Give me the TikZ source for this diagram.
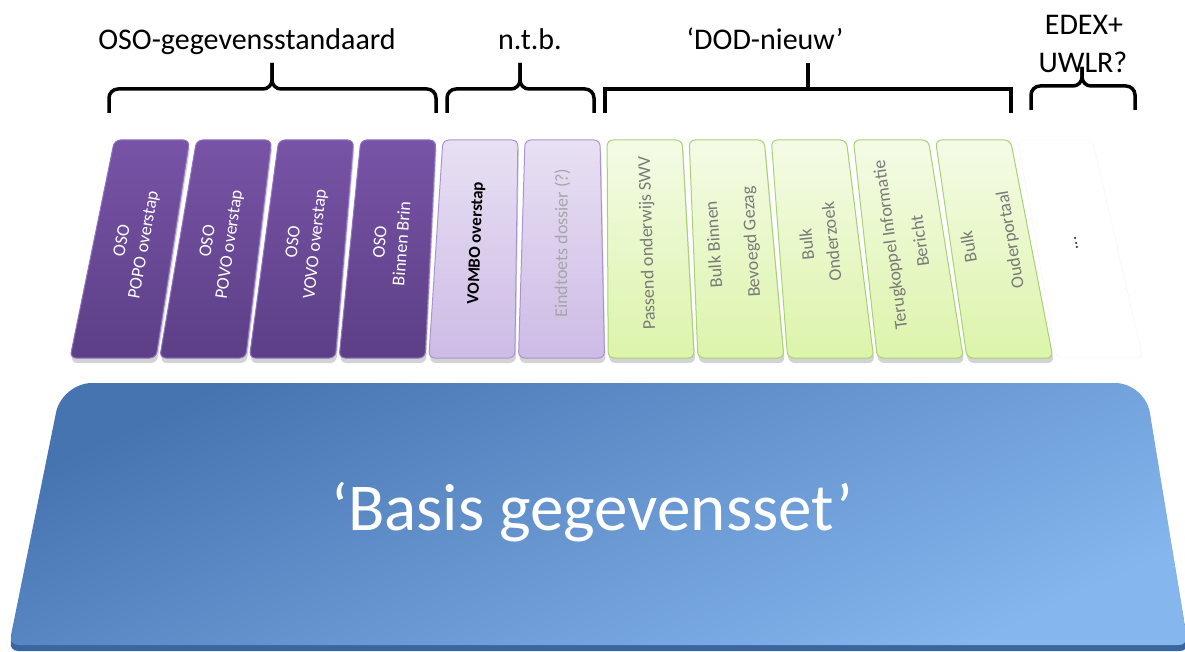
\documentclass[tikz,border=0pt]{standalone}
\usepackage{fontspec}
\setmainfont{Carlito}
\usetikzlibrary{shadows}

\tikzset{
  col/.style={rounded corners=6pt, line width=1pt,
    drop shadow={opacity=0.35, shadow xshift=1pt, shadow yshift=-5pt}},
  osocol/.style={col, draw=osoedge, top color=osotop, bottom color=osobot},
  vombocol/.style={col, draw=ntbedge, top color=ntbtop, bottom color=ntbbot},
  ntbcol/.style={vombocol},
  dodcol/.style={col, draw=dodedge, top color=dodtop, bottom color=dodbot},
  morecol/.style={rounded corners=6pt, draw=black!5, fill=white},
  coltxt/.style={align=center, font=\fontsize{18}{22}\selectfont},
  osotxt/.style={coltxt, text=white},
  vombotxt/.style={coltxt, text=black, font=\fontsize{17}{22}\selectfont\bfseries},
  ntbtxt/.style={coltxt, text=black!35},
  dodtxt/.style={coltxt, text=black!52},
  moretxt/.style={coltxt, text=black!75},
  grpbrace/.style={line width=3.5pt},
}

\begin{document}
\begin{tikzpicture}[x=1pt, y=-1pt, font=\fontsize{30}{36}\selectfont]
  \definecolor{osotop}{HTML}{7853A6}
  \definecolor{osobot}{HTML}{5C3F86}
  \definecolor{osoedge}{HTML}{9073C2}
  \definecolor{ntbtop}{HTML}{E8E0F3}
  \definecolor{ntbbot}{HTML}{CDBBE6}
  \definecolor{ntbedge}{HTML}{AB93D3}
  \definecolor{dodtop}{HTML}{F4FBE6}
  \definecolor{dodbot}{HTML}{DCF4AA}
  \definecolor{dodedge}{HTML}{A8D273}
  \definecolor{basedark}{HTML}{4674B1}
  \definecolor{baselight}{HTML}{86B6EE}
  \definecolor{baseedge}{HTML}{3A65A0}
  \useasboundingbox (0,0) rectangle (1185,652);

  % groups on top
  \node[anchor=base] (oso) at (247,50) {OSO-gegevensstandaard};
  \node[anchor=base] (ntb) at (530,50) {n.t.b.};
  \node[anchor=base] (dod) at (765,50) {‘DOD-nieuw’};
  \node[anchor=base] (edex) at (1084,35) {EDEX+};
  \node[anchor=base] (uwlr) at (1083,73) {UWLR?};
  \foreach \a/\m/\b/\yb/\yt/\r in {109/272/436/113/63/9pt, 447/520/594/113/63/9pt,
                                  605/808/1011/113/63/0pt, 1031/1082/1135/110/67/9pt}{
    \draw[grpbrace, rounded corners=\r] (\a,\yb) -- (\a,\yb-24) -- (\m,\yb-24) -- (\m,\yt);
    \draw[grpbrace, rounded corners=\r] (\b,\yb) -- (\b,\yb-24) -- (\m,\yb-24) -- (\m,\yt);
  }

  % berichten
  \foreach \i/\k/\t in {0/oso/{OSO\\POPO overstap}, 1/oso/{OSO\\POVO overstap},
                        2/oso/{OSO\\VOVO overstap}, 3/oso/{OSO\\Binnen Brin},
                        4/vombo/{VOMBO overstap}, 5/ntb/{Eindtoets dossier (?)},
                        6/dod/{Passend onderwijs SWV}, 7/dod/{Bulk Binnen\\[15pt]Bevoegd Gezag},
                        8/dod/{Bulk\\[3pt]Onderzoek}, 9/dod/{Terugkoppel Informatie\\[8pt]Bericht},
                        10/dod/{Bulk\\[20pt]Ouderportaal}, 11/more/{...}}{
    \pgfmathsetmacro\xt{152+82.1*\i}
    \pgfmathsetmacro\xb{113+89.7*\i}
    \pgfmathsetmacro\ang{atan2(218,\xt-\xb)}
    \draw[\k col] (\xt-37.5,140) -- (\xt+37.5,140) -- (\xb+43,358) -- (\xb-43,358) -- cycle;
    \node[\k txt, rotate=\ang] (c\i) at ({\xb+0.5275*(\xt-\xb)},243) {\t};
  }

  % basis
  \fill[baseedge] (598,651) [rounded corners=9pt] -- (9,651) [rounded corners=30pt]
    -- (62,388) -- (1145,388) [rounded corners=9pt] -- (1189,651) -- cycle;
  \shade[top color=basedark, bottom color=baselight, shading angle=25]
    (598,645) [rounded corners=9pt] -- (9,645) [rounded corners=30pt]
    -- (62,383) -- (1145,383) [rounded corners=9pt] -- (1188,645) -- cycle;
  \node[anchor=base, text=white, font=\fontsize{67}{80}\selectfont] (basis) at (592,530)
    {‘Basis gegevensset’};
\end{tikzpicture}
\end{document}
